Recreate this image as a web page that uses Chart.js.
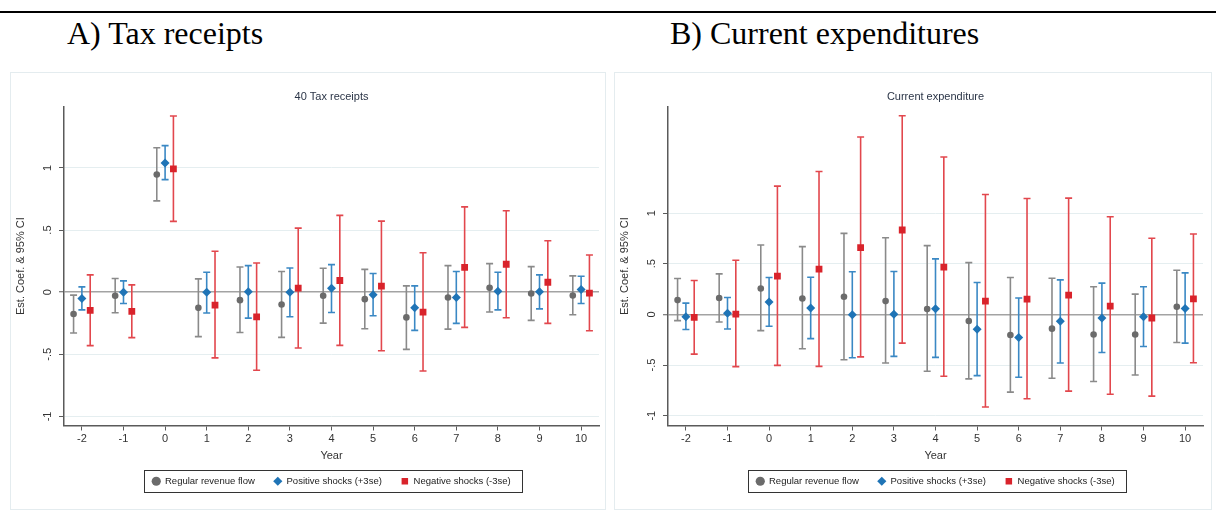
<!DOCTYPE html>
<html>
<head>
<meta charset="utf-8">
<script src="https://cdn.jsdelivr.net/npm/chart.js@4.4.1/dist/chart.umd.min.js"></script>
<style>
body { margin: 0; width: 1216px; height: 513px; background: #fff; position: relative; overflow: hidden; }
.rule { position: absolute; left: 0; top: 11px; width: 1216px; height: 2px; background: #000; }
.head { position: absolute; top: 17px; line-height: 32px; font-family: "Liberation Serif", "Times New Roman", serif; font-size: 32px; color: #000; white-space: nowrap; }
.frame { position: absolute; top: 72px; height: 438px; border: 1px solid #e4ecef; box-sizing: border-box; }
canvas { position: absolute; top: 72px; }
</style>
</head>
<body>
<div class="rule"></div>
<div class="head" style="left:67px">A) Tax receipts</div>
<div class="head" style="left:670px">B) Current expenditures</div>
<div class="frame" style="left:10px;width:596px"></div>
<div class="frame" style="left:614px;width:598px"></div>
<canvas id="tax" width="595" height="438" style="left:10px"></canvas>
<canvas id="exp" width="595" height="438" style="left:614px"></canvas>
<script>
// years after the shock
const years = [-2, -1, 0, 1, 2, 3, 4, 5, 6, 7, 8, 9, 10];
const yTicks = [-1, -0.5, 0, 0.5, 1];
const yTickLabels = ['-1', '-.5', '0', '.5', '1'];
const seriesNames = ['Regular revenue flow', 'Positive shocks (+3se)', 'Negative shocks (-3se)'];

// panel A: tax receipts
const taxRegEst = [-0.176, -0.029, 0.947, -0.126, -0.064, -0.099, -0.029, -0.056, -0.203, -0.043, 0.035, -0.011, -0.027];
const taxRegLo = [-0.329, -0.166, 0.735, -0.358, -0.324, -0.364, -0.249, -0.294, -0.460, -0.297, -0.160, -0.227, -0.182];
const taxRegHi = [-0.024, 0.110, 1.163, 0.107, 0.203, 0.166, 0.193, 0.184, 0.051, 0.214, 0.230, 0.206, 0.131];
const taxPosEst = [-0.051, 0.0, 1.040, 0.0, 0.003, 0.0, 0.032, -0.021, -0.126, -0.043, 0.008, 0.003, 0.021];
const taxPosLo = [-0.142, -0.091, 0.906, -0.168, -0.209, -0.198, -0.163, -0.190, -0.307, -0.251, -0.142, -0.134, -0.091];
const taxPosHi = [0.043, 0.091, 1.180, 0.160, 0.214, 0.195, 0.222, 0.150, 0.051, 0.166, 0.160, 0.139, 0.128];
const taxNegEst = [-0.147, -0.155, 0.992, -0.104, -0.198, 0.032, 0.094, 0.048, -0.160, 0.200, 0.225, 0.080, -0.008];
const taxNegLo = [-0.430, -0.366, 0.570, -0.529, -0.628, -0.449, -0.428, -0.471, -0.634, -0.283, -0.206, -0.251, -0.310];
const taxNegHi = [0.139, 0.059, 1.418, 0.329, 0.235, 0.516, 0.618, 0.572, 0.318, 0.687, 0.655, 0.414, 0.299];

// panel B: current expenditure
const expRegEst = [0.141, 0.161, 0.256, 0.157, 0.174, 0.131, 0.052, -0.066, -0.203, -0.141, -0.199, -0.199, 0.075];
const expRegLo = [-0.062, -0.075, -0.160, -0.340, -0.448, -0.480, -0.562, -0.637, -0.768, -0.631, -0.663, -0.598, -0.278];
const expRegHi = [0.354, 0.400, 0.685, 0.669, 0.800, 0.757, 0.679, 0.511, 0.364, 0.357, 0.272, 0.200, 0.436];
const expPosEst = [-0.023, 0.010, 0.121, 0.062, -0.003, 0.0, 0.056, -0.147, -0.229, -0.069, -0.036, -0.023, 0.059];
const expPosLo = [-0.150, -0.144, -0.118, -0.239, -0.428, -0.415, -0.425, -0.605, -0.621, -0.480, -0.376, -0.317, -0.284];
const expPosHi = [0.111, 0.167, 0.364, 0.367, 0.420, 0.423, 0.548, 0.315, 0.161, 0.341, 0.308, 0.272, 0.410];
const expNegEst = [-0.030, 0.003, 0.377, 0.446, 0.659, 0.833, 0.466, 0.131, 0.151, 0.190, 0.082, -0.036, 0.154];
const expNegLo = [-0.392, -0.516, -0.503, -0.513, -0.420, -0.284, -0.611, -0.915, -0.833, -0.758, -0.788, -0.807, -0.477];
const expNegHi = [0.334, 0.534, 1.266, 1.410, 1.751, 1.960, 1.554, 1.184, 1.144, 1.148, 0.964, 0.751, 0.793];

Chart.defaults.font.family = '"Liberation Sans", Arial, sans-serif';

const GREY = '#6b6b6b', BLUE = '#1f74b6', RED = '#d9232b';

function makeSet(label, est, lo, hi, shift, color, barColor, style, r) {
  return {
    label: label,
    data: years.map((yr, i) => ({ x: yr + shift, y: est[i] })),
    lo: lo, hi: hi, barColor: barColor,
    pointStyle: style, pointRadius: r, pointHoverRadius: r,
    backgroundColor: color, borderColor: color, borderWidth: 0
  };
}

// draws the CI whiskers through the chart scales
const errorBars = {
  id: 'errorBars',
  beforeDatasetsDraw(chart) {
    const { ctx, chartArea } = chart;
    const xs = chart.scales.x, ys = chart.scales.y;
    ctx.save();
    ctx.beginPath();
    ctx.rect(chartArea.left, chartArea.top, chartArea.width, chartArea.height);
    ctx.clip();
    chart.data.datasets.forEach(ds => {
      ctx.strokeStyle = ds.barColor;
      ctx.lineWidth = 1.6;
      ds.data.forEach((p, i) => {
        const px = xs.getPixelForValue(p.x);
        const y1 = ys.getPixelForValue(ds.lo[i]);
        const y2 = ys.getPixelForValue(ds.hi[i]);
        ctx.beginPath();
        ctx.moveTo(px, y1); ctx.lineTo(px, y2);
        ctx.moveTo(px - 3.5, y1); ctx.lineTo(px + 3.5, y1);
        ctx.moveTo(px - 3.5, y2); ctx.lineTo(px + 3.5, y2);
        ctx.stroke();
      });
    });
    ctx.restore();
  }
};

// box round the legend, like stata
const legendFrame = {
  id: 'legendFrame',
  afterDraw(chart) {
    const boxes = chart.legend && chart.legend.legendHitBoxes;
    if (!boxes || !boxes.length) return;
    const l = Math.min(...boxes.map(b => b.left)) - 8;
    const r = Math.max(...boxes.map(b => b.left + b.width)) + 12;
    const cy = boxes[0].top + boxes[0].height / 2;
    const ctx = chart.ctx;
    ctx.save();
    ctx.strokeStyle = '#333';
    ctx.lineWidth = 1;
    ctx.strokeRect(Math.round(l) + 0.5, Math.round(cy - 11) + 0.5, Math.round(r - l), 22);
    ctx.restore();
  }
};

function makeChart(id, title, sets, yMin, yMax) {
  return new Chart(document.getElementById(id), {
    type: 'scatter',
    data: { datasets: sets },
    plugins: [errorBars, legendFrame],
    options: {
      responsive: false,
      animation: false,
      layout: { padding: { left: 4, right: 6, top: 0, bottom: 14 } },
      plugins: {
        title: {
          display: true, text: title, color: '#2b3547', fullSize: false,
          font: { size: 11, weight: 'normal' }, padding: { top: 18, bottom: 3.5 }
        },
        legend: {
          position: 'bottom', fullSize: false,
          labels: { usePointStyle: true, boxWidth: 8, boxHeight: 6.5, padding: 19, color: '#222', font: { size: 9.5 } }
        },
        tooltip: { enabled: false }
      },
      scales: {
        x: {
          type: 'linear', min: -2.43, max: 10.43,
          afterBuildTicks: s => { s.ticks = years.map(v => ({ value: v })); },
          afterFit: s => { s.height = 32; },
          ticks: { color: '#333', font: { size: 11 }, padding: 2, minRotation: 0, maxRotation: 0 },
          grid: { drawOnChartArea: false, tickLength: 5, tickColor: '#5a5a5a' },
          border: { color: '#5a5a5a', width: 1.5 },
          title: { display: true, text: 'Year', color: '#333', font: { size: 11 }, padding: { top: 0, bottom: -5 } }
        },
        y: {
          min: yMin, max: yMax,
          afterBuildTicks: s => { s.ticks = yTicks.map(v => ({ value: v })); },
          afterFit: s => { s.width = 50; },
          ticks: {
            callback: v => yTickLabels[yTicks.indexOf(v)],
            color: '#333', font: { size: 11 }, padding: 5,
            minRotation: 90, maxRotation: 90, crossAlign: 'center'
          },
          grid: {
            color: c => (c.tick && c.tick.value === 0) ? '#a3a3a3' : '#e5eef0',
            lineWidth: c => (c.tick && c.tick.value === 0) ? 1.5 : 1,
            tickLength: 5, tickColor: '#5a5a5a', tickWidth: 1
          },
          border: { color: '#5a5a5a', width: 1.5 },
          title: { display: true, text: 'Est. Coef. & 95% CI', color: '#333', font: { size: 11 }, padding: { top: 0, bottom: 0 } }
        }
      }
    }
  });
}

makeChart('tax', '40 Tax receipts', [
  makeSet(seriesNames[0], taxRegEst, taxRegLo, taxRegHi, -0.2, GREY, '#8a8a8a', 'circle', 3.3),
  makeSet(seriesNames[1], taxPosEst, taxPosLo, taxPosHi, 0, BLUE, '#3a88c4', 'rectRot', 4.5),
  makeSet(seriesNames[2], taxNegEst, taxNegLo, taxNegHi, 0.2, RED, '#e2474d', 'rect', 4.8)
], -1.073, 1.493);

makeChart('exp', 'Current expenditure', [
  makeSet(seriesNames[0], expRegEst, expRegLo, expRegHi, -0.2, GREY, '#8a8a8a', 'circle', 3.3),
  makeSet(seriesNames[1], expPosEst, expPosLo, expPosHi, 0, BLUE, '#3a88c4', 'rectRot', 4.5),
  makeSet(seriesNames[2], expNegEst, expNegLo, expNegHi, 0.2, RED, '#e2474d', 'rect', 4.8)
], -1.097, 2.05);
</script>
</body>
</html>
